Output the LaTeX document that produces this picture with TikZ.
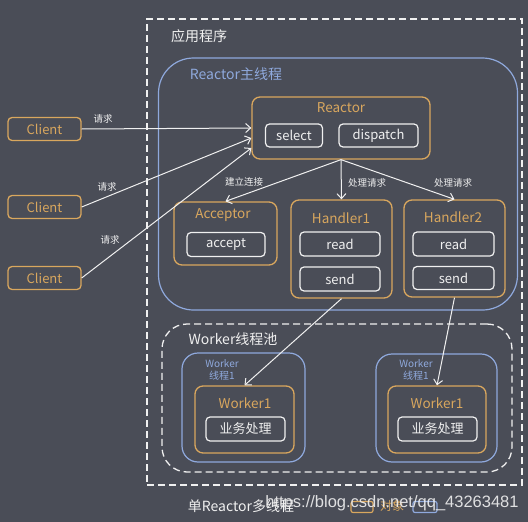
\documentclass[tikz,border=0pt]{standalone}
\usepackage{fontspec}
\setmainfont{Noto Sans CJK SC}
\newfontfamily\urlfont{Liberation Sans}
\usetikzlibrary{arrows.meta}

\definecolor{fondo}{HTML}{4A4D57}
\definecolor{naranja}{HTML}{D9A75E}
\definecolor{azul}{HTML}{8FA9DD}
\definecolor{blanco}{HTML}{F0F0F0}

\begin{document}
\begin{tikzpicture}[x=1pt, y=-1pt,
    obj/.style={draw=naranja, line width=1.3pt, rounded corners=8pt},
    hilo/.style={draw=azul, line width=1.2pt},
    op/.style={draw=blanco, line width=1.2pt, rounded corners=4pt, text=blanco,
        inner sep=0pt, font=\fontsize{13}{15}\selectfont},
    cliente/.style={draw=naranja, line width=1.3pt, rounded corners=4pt, text=naranja,
        inner sep=0pt, minimum width=73pt, minimum height=23pt, font=\fontsize{13}{15}\selectfont},
    titulo/.style={text=naranja, font=\fontsize{13.5}{15}\selectfont},
    etiqueta/.style={text=blanco, font=\fontsize{9.5}{11}\selectfont},
    caja/.style={draw=blanco, line width=1.3pt, dash pattern=on 7pt off 4pt},
    flecha/.style={draw=blanco, line width=1pt, -{Straight Barb[length=5pt,width=9pt]}}]

    % Fondo
    \useasboundingbox (0,0) rectangle (528,522);
    \fill[fondo] (0,0) rectangle (528,522);

    % Aplicacion
    \node[caja, minimum width=375pt, minimum height=466pt] (app) at (334.5,252) {};
    \node[text=blanco, font=\fontsize{14}{16}\selectfont] (appt) at (199,36) {应用程序};

    % Hilo principal del Reactor
    \node[hilo, rounded corners=35pt, minimum width=359pt, minimum height=252pt] (main) at (338,184) {};
    \node[text=azul, font=\fontsize{14}{16}\selectfont] (maint) at (236,74) {Reactor主线程};

    % Reactor
    \node[obj, minimum width=178pt, minimum height=62pt] (reactor) at (341,128) {};
    \node[titulo] (reactort) at (341,108) {Reactor};
    \node[op, minimum width=57pt, minimum height=23pt] (select) at (294,135.5) {select};
    \node[op, minimum width=79pt, minimum height=23pt] (dispatch) at (378.5,135.5) {dispatch};

    % Acceptor y Handlers
    \node[obj, minimum width=103pt, minimum height=63pt] (acceptor) at (225.5,233.5) {};
    \node[titulo] (acceptort) at (223,215) {Acceptor};
    \node[op, minimum width=78pt, minimum height=24pt] (accept) at (226,244.5) {accept};

    \node[obj, minimum width=101pt, minimum height=98pt] (h1) at (341.5,249) {};
    \node[titulo] (h1t) at (341,218) {Handler1};
    \node[op, minimum width=80pt, minimum height=24pt] (h1read) at (340,244) {read};
    \node[op, minimum width=80pt, minimum height=24pt] (h1send) at (340,279) {send};

    \node[obj, minimum width=101pt, minimum height=97pt] (h2) at (454.5,248.5) {};
    \node[titulo] (h2t) at (453,217) {Handler2};
    \node[op, minimum width=81pt, minimum height=24pt] (h2read) at (453.5,244) {read};
    \node[op, minimum width=81pt, minimum height=23pt] (h2send) at (453.5,278) {send};

    % Clientes
    \node[cliente] (c1) at (44.5,129) {Client};
    \node[cliente] (c2) at (44.5,207) {Client};
    \node[cliente] (c3) at (44.5,278) {Client};

    \draw[flecha] (c1.east) -- (reactor.west);
    \draw[flecha] (c2.east) -- ([yshift=-10pt]reactor.west);
    \draw[flecha] (c3.east) -- ([yshift=-20pt]reactor.west);
    \node[etiqueta] (r1) at (103,119) {请求};
    \node[etiqueta] (r2) at (107,187) {请求};
    \node[etiqueta] (r3) at (110,240) {请求};

    \draw[flecha] (reactor.south) -- (acceptor.north);
    \draw[flecha] (reactor.south) -- (h1.north);
    \draw[flecha] (reactor.south) -- (h2.north);
    \node[etiqueta] (e1) at (244,182) {建立连接};
    \node[etiqueta] (e2) at (367,183) {处理请求};
    \node[etiqueta] (e3) at (453,183) {处理请求};

    % Pool de hilos Worker
    \node[caja, rounded corners=25pt, minimum width=350pt, minimum height=148pt] (pool) at (337,398) {};
    \node[text=blanco, font=\fontsize{14}{16}\selectfont] (poolt) at (233,339) {Worker线程池};

    \node[hilo, rounded corners=16pt, minimum width=123pt, minimum height=109pt] (t1) at (243.5,407.5) {};
    \node[text=azul, font=\fontsize{10}{12}\selectfont, align=center] (t1t) at (222,370) {Worker\\线程1};
    \node[obj, minimum width=99pt, minimum height=67pt] (w1) at (244.5,419.5) {};
    \node[titulo] (w1t) at (245,403) {Worker1};
    \node[op, minimum width=79pt, minimum height=24pt] (b1) at (245.5,429) {业务处理};

    \node[hilo, rounded corners=16pt, minimum width=121pt, minimum height=108pt] (t2) at (436.5,408) {};
    \node[text=azul, font=\fontsize{10}{12}\selectfont, align=center] (t2t) at (416,370) {Worker\\线程1};
    \node[obj, minimum width=98pt, minimum height=67pt] (w2) at (437,419.5) {};
    \node[titulo] (w2t) at (437,403) {Worker1};
    \node[op, minimum width=79pt, minimum height=24pt] (b2) at (437.5,429) {业务处理};

    \draw[flecha] (h1.south) -- (w1.north);
    \draw[flecha] (h2.south) -- (w2.north);

    % Leyenda
    \node[text=blanco, font=\fontsize{14}{16}\selectfont] (pie) at (241,506) {单Reactor多线程};
    \node[draw=naranja, line width=1.2pt, rounded corners=2pt, minimum width=22pt, minimum height=11pt, inner sep=0pt] (lobj) at (362,507) {};
    \node[text=naranja, font=\fontsize{12}{14}\selectfont] (lobjt) at (392,506) {对象};
    \node[draw=azul, line width=1.2pt, rounded corners=2pt, minimum width=24pt, minimum height=11pt, inner sep=0pt] (lhilo) at (425,507) {};
    \node[text=blanco, opacity=0.9, font=\urlfont\fontsize{16.5}{18}\selectfont] (url) at (392,503) {https://blog.csdn.net/qq\_43263481};
\end{tikzpicture}
\end{document}
